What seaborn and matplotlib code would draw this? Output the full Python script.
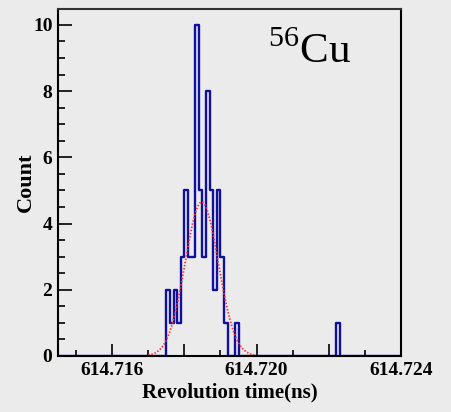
import numpy as np
import pandas as pd
import matplotlib
matplotlib.use("Agg")
import matplotlib.pyplot as plt
from matplotlib.ticker import MultipleLocator, FuncFormatter
import seaborn as sns

# ---- data ----
hist_lo = 614.7145          # histogram range
hist_hi = 614.7240
bin_width = 0.0001
peak_start = 614.7175       # left edge of first non-empty peak bin
peak_counts = [2, 1, 2, 1, 3, 5, 3, 3, 10, 5, 3, 8, 5, 2, 5, 3, 1, 0, 0, 1]
outlier_start = [614.7222]
outlier_counts = [1]

# Gaussian fit parameters
fit_amp = 4.65
fit_mean = 614.71848
fit_sigma = 0.00046
fit_lo, fit_hi = 614.7170, 614.7200

xticks_labeled = [614.716, 614.720, 614.724]

# ---- build weighted data ----
centers = [peak_start + (i + 0.5) * bin_width for i in range(len(peak_counts))]
centers += [s + 0.5 * bin_width for s in outlier_start]
weights = peak_counts + outlier_counts
df = pd.DataFrame({"t": centers, "w": weights})
n_bins = int(round((hist_hi - hist_lo) / bin_width))

sns.set_theme(style="ticks")
bg = "#ebebeb"
plt.rcParams["font.family"] = ["Liberation Serif", "DejaVu Serif"]
plt.rcParams["mathtext.fontset"] = "custom"
plt.rcParams["mathtext.rm"] = "Liberation Serif"

fig = plt.figure(figsize=(4.52, 4.12), dpi=100, facecolor=bg)
ax = fig.add_axes([58 / 452, 1 - 356 / 412, (401 - 58) / 452, (356 - 9) / 412])
ax.set_facecolor(bg)

sns.histplot(data=df, x="t", weights="w", bins=n_bins,
             binrange=(hist_lo, hist_hi), element="step",
             fill=False, color="#10109e", linewidth=1.7, ax=ax)

xf = np.linspace(fit_lo, fit_hi, 300)
yf = fit_amp * np.exp(-0.5 * ((xf - fit_mean) / fit_sigma) ** 2)
sns.lineplot(x=xf, y=yf, color="#ff3030", linestyle=(0, (0.8, 1.0)),
             linewidth=1.3, ax=ax)

ax.set_xlim(hist_lo, hist_hi)
ax.set_ylim(0, 10.48)

ax.xaxis.set_major_locator(MultipleLocator(0.002))
ax.xaxis.set_minor_locator(MultipleLocator(0.001))
def fmt(v, pos):
    for t in xticks_labeled:
        if abs(v - t) < 1e-7:
            return f"{t:.3f}"
    return ""
ax.xaxis.set_major_formatter(FuncFormatter(fmt))
ax.yaxis.set_major_locator(MultipleLocator(2))
ax.yaxis.set_minor_locator(MultipleLocator(0.5))

ax.tick_params(axis="both", which="both", direction="in", color="black",
               top=False, right=False)
ax.tick_params(axis="x", which="major", length=9, width=1.2, pad=4)
ax.tick_params(axis="x", which="minor", length=4.5, width=1.2)
ax.tick_params(axis="y", which="major", length=10, width=1.2, pad=4)
ax.tick_params(axis="y", which="minor", length=5, width=1.2)
for lab in ax.get_xticklabels() + ax.get_yticklabels():
    lab.set_fontweight("bold")
    lab.set_fontsize(14)
    lab.set_color("black")

for s in ax.spines.values():
    s.set_visible(True)
    s.set_color("black")
    s.set_linewidth(1.5)
ax.spines["top"].set_color("#333333")

ax.set_xlabel("Revolution time(ns)", fontsize=15, fontweight="bold",
              color="black", labelpad=3)
ax.set_ylabel("Count", fontsize=16, fontweight="bold", color="black",
              labelpad=-2)

fig.text(268 / 452, 1 - 63 / 412, r"$^{56}$Cu", fontsize=31,
         ha="left", va="baseline", color="black")

fig.savefig("out.png", dpi=100, facecolor=bg)
